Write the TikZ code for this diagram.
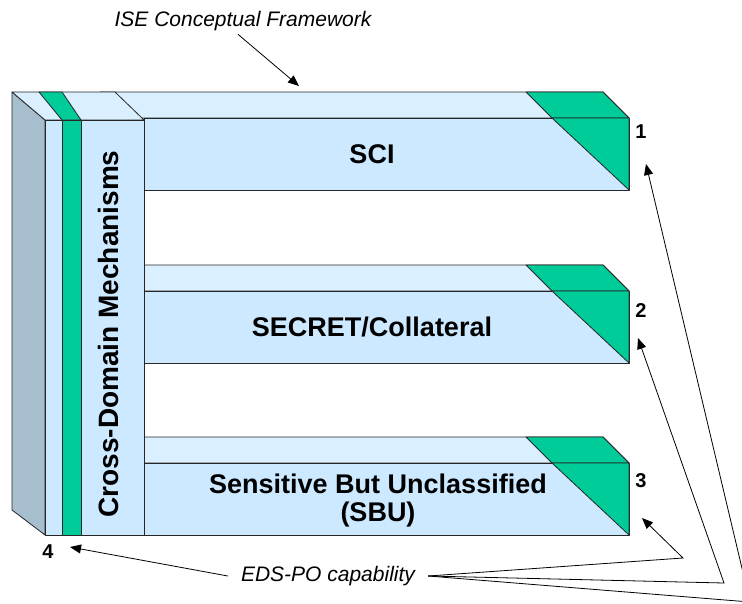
\documentclass[tikz,border=0pt]{standalone}
\usepackage{fontspec}
\setmainfont{Liberation Sans}
\usetikzlibrary{arrows.meta, positioning}

\definecolor{frontblue}{HTML}{CCE9FF}
\definecolor{topblue}{HTML}{DAEFFF}
\definecolor{sidegray}{HTML}{A7BECE}
\definecolor{slabgreen}{HTML}{00CC99}

\begin{document}
\begin{tikzpicture}[x=1pt, y=-1pt,
    face/.style={draw=black!85, line width=0.8pt, line join=round},
    barlabel/.style={font=\fontsize{27}{28}\selectfont\bfseries, align=center},
    numlabel/.style={font=\fontsize{20}{22}\selectfont\bfseries},
    note/.style={font=\fontsize{21}{24}\selectfont\itshape, inner xsep=13pt},
    arrow/.style={-{Triangle[length=11pt, width=9pt]}, line width=0.8pt}]
    \clip (0,0) rectangle (742,603);
    % Bars
    \foreach \y in {92,265,437} {
        \filldraw[face, fill=topblue] (100,\y) -- (603,\y) -- (629,\y+26) -- (128,\y+26) -- cycle;
        \filldraw[face, fill=slabgreen] (526,\y) -- (603,\y) -- (629,\y+26) -- (552,\y+26) -- cycle;
        \filldraw[face, fill=frontblue] (144,\y+26) rectangle (629,\y+98);
        \filldraw[face, fill=slabgreen] (552,\y+26) -- (629,\y+26) -- (629,\y+98) -- cycle;
    }
    % Column
    \filldraw[face, fill=sidegray] (12,92) -- (45,120) -- (45,535) -- (12,510) -- cycle;
    \filldraw[face, fill=topblue] (12,92) -- (115,92) -- (144,120) -- (45,120) -- cycle;
    \filldraw[face, fill=slabgreen] (39,92) -- (62,92) -- (81,120) -- (62,120) -- cycle;
    \filldraw[face, fill=frontblue] (45,120) rectangle (144,535);
    \filldraw[face, fill=slabgreen] (62,120) rectangle (81,535);

    % Nodes
    \node[barlabel] (sci) at (372,154) {SCI};
    \node[barlabel] (secret) at (372,327) {SECRET/Collateral};
    \node[barlabel] (sbu) at (378,501) {Sensitive But Unclassified\\(SBU)};
    \node[barlabel, font=\fontsize{28}{29}\selectfont\bfseries, rotate=90] (cdm) at (108,334) {Cross-Domain Mechanisms};
    \node[numlabel] (n1) at (641,132) {1};
    \node[numlabel] (n2) at (641,311) {2};
    \node[numlabel] (n3) at (641,481) {3};
    \node[numlabel] (n4) at (48,552) {4};
    \node[note] (ise) at (243,21) {ISE Conceptual Framework};
    \node[note] (eds) at (328,576) {EDS-PO capability};

    \coordinate (top) at (299,86);
    \coordinate (tip1) at (646,164);
    \coordinate (tip2) at (638,338);
    \coordinate (tip3) at (642,518);
    \coordinate (tip4) at (70,547);
    \coordinate (bend1) at (750,602);
    \coordinate (bend2) at (724,583);
    \coordinate (bend3) at (683,558);

    % Arrows
    \draw[arrow] ([xshift=-5pt]ise.south) -- (top);
    \draw[arrow] (eds.west) -- (tip4);
    \draw[arrow] (eds.east) -- (bend3) -- (tip3);
    \draw[arrow] (eds.east) -- (bend2) -- (tip2);
    \draw[arrow] (eds.east) -- (bend1) -- (tip1);
\end{tikzpicture}
\end{document}
